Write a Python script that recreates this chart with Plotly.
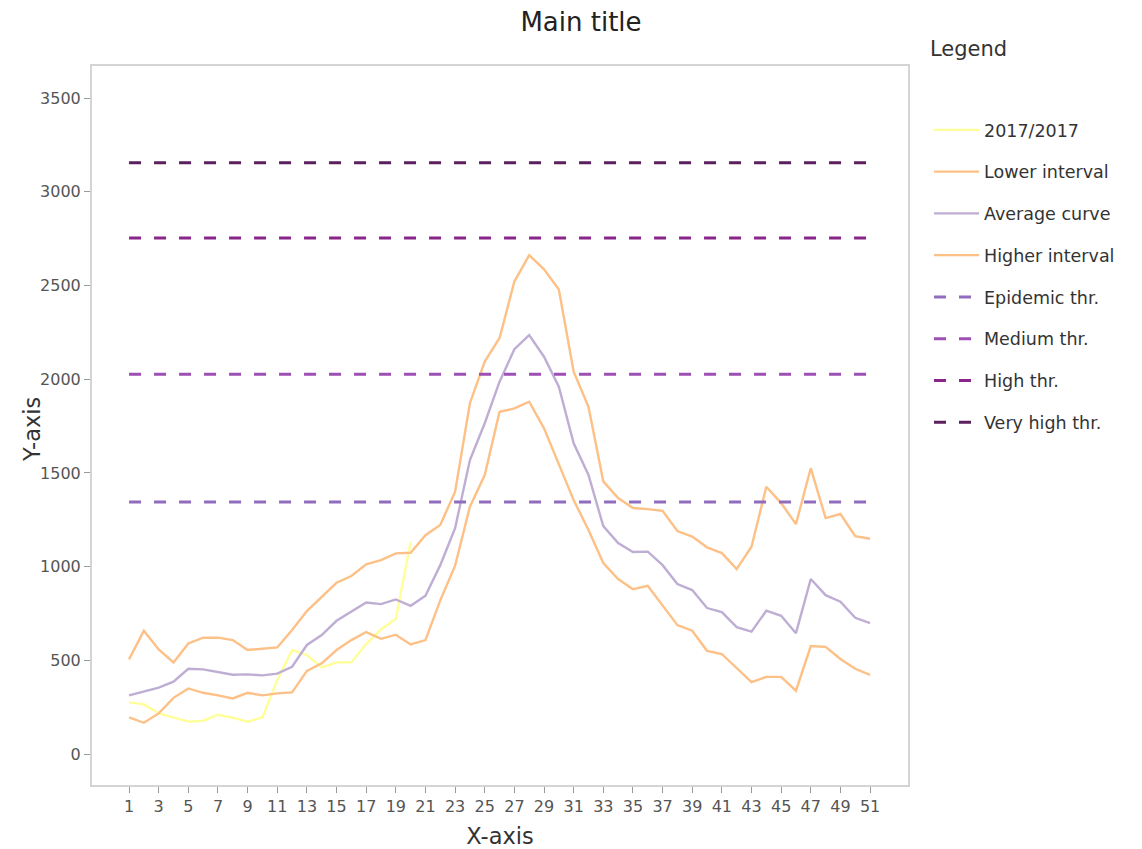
import plotly.graph_objects as go

weeks = list(range(1, 52))
tick_weeks = list(range(1, 52, 2))

season_2017 = [276, 265, 217, 194, 173, 178, 210, 194, 173, 196, 395, 555, 528, 462, 489, 489, 587, 665, 722, 1133]

lower_interval = [196, 167, 217, 300, 350, 327, 313, 297, 327, 313, 324, 329, 444, 484, 555, 608, 651, 615, 637, 585,
                  608, 820, 1005, 1320, 1489, 1826, 1844, 1880, 1738, 1551, 1355, 1195, 1019, 934, 880, 898, 795, 688,
                  658, 551, 534, 459, 384, 412, 412, 338, 576, 572, 507, 455, 422]

average_curve = [313, 333, 354, 386, 455, 452, 439, 423, 425, 420, 429, 466, 582, 635, 711, 758, 809, 800, 825, 791,
                 845, 1008, 1205, 1569, 1765, 1987, 2160, 2235, 2120, 1960, 1658, 1489, 1216, 1126, 1078, 1080, 1008,
                 907, 875, 779, 757, 677, 653, 765, 738, 645, 934, 848, 813, 727, 699]

higher_interval = [505, 658, 558, 489, 590, 621, 621, 608, 555, 564, 569, 662, 763, 839, 914, 950, 1012, 1035, 1071,
                   1074, 1168, 1222, 1400, 1872, 2094, 2220, 2521, 2662, 2586, 2479, 2040, 1853, 1455, 1366, 1313,
                   1307, 1298, 1190, 1160, 1103, 1072, 987, 1106, 1426, 1339, 1227, 1526, 1259, 1281, 1163, 1149]

threshold_names = ["Epidemic thr.", "Medium thr.", "High thr.", "Very high thr."]
threshold_values = [1345, 2027, 2753, 3155]
threshold_colors = ["#8f6cbd", "#9d4fb3", "#8a2589", "#5c1f5e"]

FONT = "DejaVu Sans"

# page offset (browser body margin) = 8px
OFF = 8
PL, PT, PR, PB = 92, 66, 908, 785  # plot frame in page pixels
W, H = 1142, 849
PW, PH = PR - PL, PB - PT

fig = go.Figure()

series = [
    ("2017/2017", weeks[:len(season_2017)], season_2017, "#ffff99"),
    ("Lower interval", weeks, lower_interval, "#fdc086"),
    ("Average curve", weeks, average_curve, "#beaed4"),
    ("Higher interval", weeks, higher_interval, "#fdc086"),
]
for i, (name, xs, ys, col) in enumerate(series):
    fig.add_trace(go.Scatter(x=xs, y=ys, mode="lines", name=name, legendgroup=f"g{i}",
                             line=dict(color=col, width=2.4)))

for j, (name, val, col) in enumerate(zip(threshold_names, threshold_values, threshold_colors)):
    fig.add_trace(go.Scatter(x=weeks, y=[val] * len(weeks), mode="lines", name=name, legendgroup=f"t{j}",
                             line=dict(color=col, width=3, dash="12px,13px")))

fig.update_layout(
    width=W, height=H,
    margin=dict(l=PL - OFF, r=W + OFF - PR, t=PT - OFF, b=H + OFF - PB),
    paper_bgcolor="white", plot_bgcolor="white",
    font=dict(family=FONT, size=16, color="#555555"),
    title=dict(text="Main title", x=(581 - OFF) / W, xref="container", xanchor="center",
               y=1 - (22 - OFF) / H, yref="container", yanchor="middle",
               font=dict(family=FONT, size=26, color="#222222")),
    showlegend=True,
    legend=dict(x=(929 - PL) / PW, xanchor="left", y=1 - (112 - PT) / PH, yanchor="top",
                font=dict(family=FONT, size=17.5, color="#333333"),
                tracegroupgap=16, itemwidth=45, bgcolor="rgba(0,0,0,0)"),
    annotations=[
        dict(text="Legend", xref="paper", yref="paper", x=(928 - PL) / PW, y=1 + (PT - 49) / PH,
             xanchor="left", yanchor="middle", showarrow=False,
             font=dict(family=FONT, size=21, color="#333333")),
        dict(text="Y-axis", xref="paper", yref="paper", x=(32 - PL) / PW, y=1 - (430 - PT) / PH,
             xanchor="center", yanchor="middle", textangle=-90, showarrow=False,
             font=dict(family=FONT, size=22.5, color="#333333")),
    ],
)

fig.update_xaxes(
    range=[-1.5, 53.56], tickmode="array", tickvals=tick_weeks, ticktext=[str(v) for v in tick_weeks],
    showgrid=False, zeroline=False, showline=True, mirror=True, linecolor="#d4d4d4", linewidth=2,
    ticks="outside", ticklen=6, tickcolor="#999999", tickwidth=1,
    tickfont=dict(family=FONT, size=16, color="#555555"),
    title=dict(text="X-axis", font=dict(family=FONT, size=22.5, color="#333333"), standoff=13),
)
fig.update_yaxes(
    range=[-165, 3671], tickvals=[0, 500, 1000, 1500, 2000, 2500, 3000, 3500],
    showgrid=False, zeroline=False, showline=True, mirror=True, linecolor="#d4d4d4", linewidth=2,
    ticks="outside", ticklen=6, tickcolor="#999999", tickwidth=1,
    tickfont=dict(family=FONT, size=16, color="#555555"),
)

fig.write_html("out.html")
